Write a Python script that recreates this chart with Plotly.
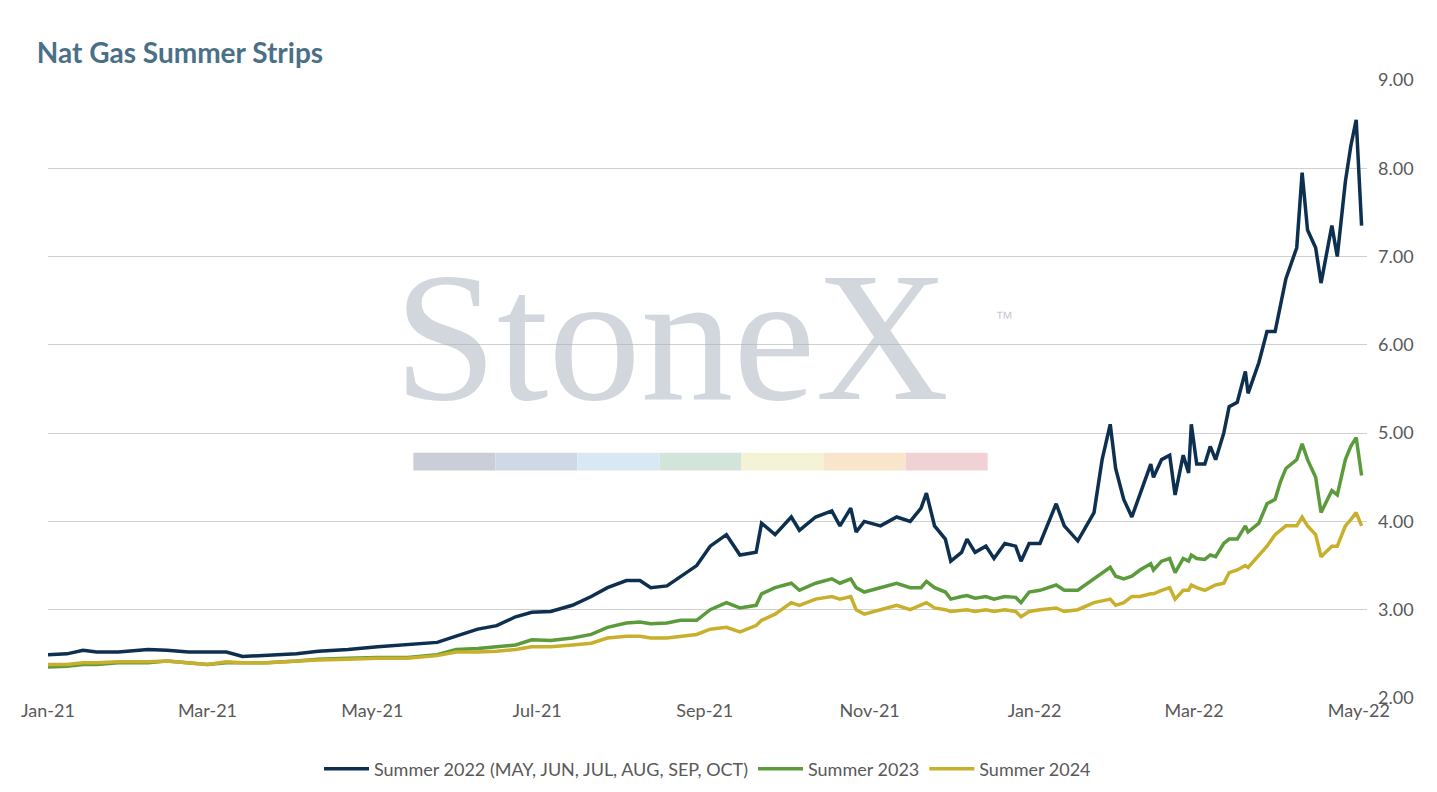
import plotly.graph_objects as go
import pandas as pd

# days since 2021-01-01 for each observation
day_offset = [0, 7, 13, 18, 26, 37, 44, 52, 59, 66, 72, 81, 92, 100, 111, 122, 133, 144, 151, 159,
              166, 173, 179, 186, 194, 201, 207, 214, 219, 223, 229, 234, 240, 245, 251, 256, 262, 264, 269, 275,
              278, 284, 290, 293, 297, 299, 302, 308, 314, 319, 323, 325, 328, 332, 334, 338, 340, 343, 347, 350,
              354, 358, 360, 363, 367, 373, 376, 381, 387, 390, 393, 395, 398, 401, 404, 408, 409, 412, 415, 417,
              420, 422, 423, 425, 428, 430, 432, 435, 437, 440, 443, 444, 448, 451, 454, 456, 458, 462, 464, 466,
              469, 471, 475, 477, 480, 482, 484, 486]

summer_2022 = [2.49, 2.50, 2.54, 2.52, 2.52, 2.55, 2.54, 2.52, 2.52, 2.52, 2.47, 2.48, 2.50, 2.53, 2.55, 2.58, 2.61, 2.63, 2.70, 2.78,
               2.82, 2.92, 2.97, 2.98, 3.05, 3.15, 3.25, 3.33, 3.33, 3.25, 3.27, 3.38, 3.50, 3.72, 3.85, 3.62, 3.65, 3.98, 3.85, 4.05,
               3.90, 4.05, 4.12, 3.95, 4.15, 3.88, 4.00, 3.95, 4.05, 4.00, 4.15, 4.32, 3.95, 3.80, 3.55, 3.65, 3.80, 3.65, 3.72, 3.58,
               3.75, 3.72, 3.55, 3.75, 3.75, 4.20, 3.95, 3.78, 4.10, 4.70, 5.10, 4.60, 4.25, 4.05, 4.30, 4.65, 4.50, 4.70, 4.75, 4.30,
               4.75, 4.55, 5.10, 4.65, 4.65, 4.85, 4.70, 5.00, 5.30, 5.35, 5.70, 5.45, 5.80, 6.15, 6.15, 6.45, 6.75, 7.10, 7.95, 7.30,
               7.10, 6.70, 7.35, 7.00, 7.85, 8.25, 8.55, 7.35]

summer_2023 = [2.35, 2.36, 2.38, 2.38, 2.40, 2.40, 2.42, 2.40, 2.38, 2.40, 2.40, 2.40, 2.42, 2.44, 2.45, 2.46, 2.46, 2.49, 2.55, 2.56,
               2.58, 2.60, 2.66, 2.65, 2.68, 2.72, 2.80, 2.85, 2.86, 2.84, 2.85, 2.88, 2.88, 3.00, 3.08, 3.02, 3.05, 3.18, 3.25, 3.30,
               3.22, 3.30, 3.35, 3.30, 3.35, 3.25, 3.20, 3.25, 3.30, 3.25, 3.25, 3.32, 3.25, 3.20, 3.12, 3.15, 3.16, 3.13, 3.15, 3.12,
               3.15, 3.14, 3.08, 3.20, 3.22, 3.28, 3.22, 3.22, 3.35, 3.42, 3.48, 3.38, 3.35, 3.38, 3.45, 3.52, 3.45, 3.55, 3.58, 3.42,
               3.58, 3.55, 3.62, 3.58, 3.57, 3.62, 3.60, 3.75, 3.80, 3.80, 3.95, 3.88, 3.98, 4.20, 4.25, 4.45, 4.60, 4.70, 4.88, 4.70,
               4.50, 4.10, 4.35, 4.30, 4.70, 4.85, 4.95, 4.52]

summer_2024 = [2.38, 2.38, 2.40, 2.40, 2.41, 2.41, 2.42, 2.40, 2.38, 2.41, 2.40, 2.40, 2.42, 2.43, 2.44, 2.45, 2.45, 2.48, 2.52, 2.52,
               2.53, 2.55, 2.58, 2.58, 2.60, 2.62, 2.68, 2.70, 2.70, 2.68, 2.68, 2.70, 2.72, 2.78, 2.80, 2.75, 2.82, 2.88, 2.95, 3.08,
               3.05, 3.12, 3.15, 3.12, 3.15, 3.00, 2.95, 3.00, 3.05, 3.00, 3.05, 3.08, 3.02, 3.00, 2.98, 3.00, 3.00, 2.98, 3.00, 2.98,
               3.00, 2.98, 2.92, 2.98, 3.00, 3.02, 2.98, 3.00, 3.08, 3.10, 3.12, 3.05, 3.08, 3.15, 3.15, 3.18, 3.18, 3.22, 3.25, 3.12,
               3.22, 3.22, 3.28, 3.25, 3.22, 3.25, 3.28, 3.30, 3.42, 3.45, 3.50, 3.48, 3.62, 3.72, 3.85, 3.90, 3.95, 3.95, 4.05, 3.95,
               3.85, 3.60, 3.72, 3.72, 3.95, 4.02, 4.10, 3.95]

watermark_colors = ['#c9ced8', '#cfd9e6', '#d9e9f3', '#d3e4da', '#f5f3d6', '#f7e6cc', '#f1d2d4']

dates = pd.Timestamp('2021-01-01') + pd.to_timedelta(day_offset, unit='D')

fig = go.Figure()
fig.add_trace(go.Scatter(
    x=dates,
    y=summer_2022,
    mode='lines',
    line=dict(color='#0d2f50', width=3.5),
    name='Summer 2022 (MAY, JUN, JUL, AUG, SEP, OCT)'
))
fig.add_trace(go.Scatter(
    x=dates,
    y=summer_2023,
    mode='lines',
    line=dict(color='#5b9b3c', width=3.5),
    name='Summer 2023'
))
fig.add_trace(go.Scatter(
    x=dates,
    y=summer_2024,
    mode='lines',
    line=dict(color='#c8b02c', width=3.5),
    name='Summer 2024'
))

# faint StoneX watermark
fig.add_annotation(text='StoneX', xref='paper', yref='paper', x=0.473, y=0.585, showarrow=False,
                   font=dict(family='Liberation Serif', size=185, color='rgba(165,175,190,0.5)'))
fig.add_annotation(text='™', xref='paper', yref='paper', x=0.733, y=0.615, showarrow=False,
                   font=dict(family='Liberation Sans', size=18, color='rgba(160,170,185,0.6)'))
for i, c in enumerate(watermark_colors):
    fig.add_shape(type='rect', xref='paper', yref='paper', layer='below', line=dict(width=0), fillcolor=c,
                  x0=0.277 + i * 0.0622, x1=0.277 + (i + 1) * 0.0622, y0=0.368, y1=0.397)

fig.update_layout(
    width=1437, height=792,
    paper_bgcolor='white', plot_bgcolor='white',
    font=dict(family='Lato', size=18, color='#595959'),
    title=dict(text='<b>Nat Gas Summer Strips</b>', x=0.02, y=0.955, xanchor='left',
               font=dict(family='Lato', size=28, color='#4a7088')),
    margin=dict(l=40, r=78, t=72, b=96),
    legend=dict(orientation='h', x=0.5, xanchor='center', y=-0.085, yanchor='top',
                font=dict(size=18), itemwidth=45),
    xaxis=dict(type='date', range=['2021-01-01', '2022-05-04'], dtick='M2', tick0='2021-01-01',
               tickformat='%b-%y', showgrid=False, showline=False, ticks=''),
    yaxis=dict(side='right', range=[2, 9], dtick=1, tickformat='.2f', gridcolor='#d0d0d0',
               zeroline=False, showline=False, ticklabelstandoff=10),
)

fig.write_html('out.html')
